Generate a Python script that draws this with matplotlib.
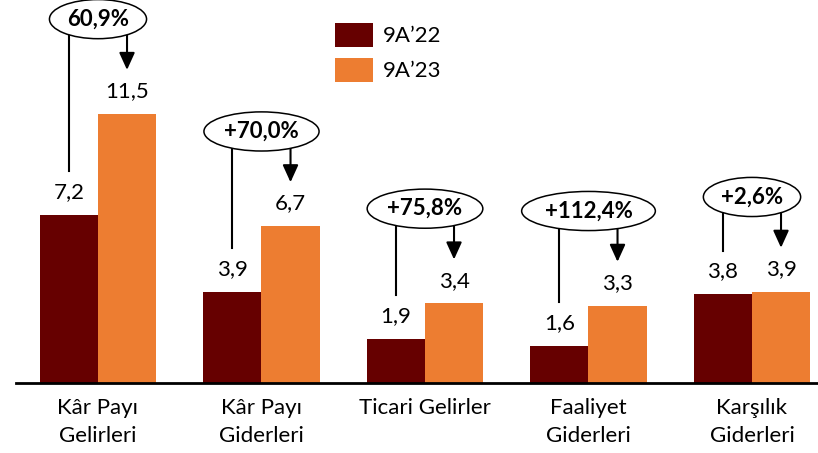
import matplotlib
matplotlib.use("Agg")
import matplotlib.pyplot as plt
import numpy as np

plt.rcParams['font.family'] = ['Lato', 'DejaVu Sans']

# data
categories = ['Kâr Payı\nGelirleri', 'Kâr Payı\nGiderleri', 'Ticari Gelirler',
              'Faaliyet\nGiderleri', 'Karşılık\nGiderleri']
vals_22 = [7.2, 3.9, 1.9, 1.6, 3.8]
vals_23 = [11.5, 6.7, 3.4, 3.3, 3.9]
changes = ['60,9%', '+70,0%', '+75,8%', '+112,4%', '+2,6%']
series_names = ['9A\u201922', '9A\u201923']

c_dark = '#660000'
c_orange = '#ED7D31'

fig = plt.figure(figsize=(8.18, 4.53), dpi=100)
ax = fig.add_axes([16.25 / 818, 70 / 453, 1 - 16.25 / 818, 383 / 453])

x = np.arange(len(categories))
w = 0.355
b1 = ax.bar(x - w / 2, vals_22, w, color=c_dark, label=series_names[0], zorder=2)
b2 = ax.bar(x + w / 2, vals_23, w, color=c_orange, label=series_names[1], zorder=2)

fs = 16
for bars, vals in ((b1, vals_22), (b2, vals_23)):
    for rect, v in zip(bars, vals):
        ax.annotate(f"{v:.1f}".replace('.', ','),
                    (rect.get_x() + rect.get_width() / 2, v),
                    xytext=(0, 12), textcoords='offset points',
                    ha='center', va='baseline', fontsize=fs, color='black')

# growth bubbles with connector line and arrow
for i, (a, b, txt) in enumerate(zip(vals_22, vals_23, changes)):
    top = max(a, b)
    cy = top + 4.05
    bottom = cy - 0.68
    ax.plot([i - w / 2, i - w / 2], [a + 1.85, bottom], color='black', lw=1.5, zorder=3)
    ax.annotate('', xy=(i + w / 2, top + 1.88), xytext=(i + w / 2, bottom),
                arrowprops=dict(arrowstyle='-|>,head_length=0.55,head_width=0.25',
                                color='black', lw=1.5,
                                mutation_scale=19, shrinkA=0, shrinkB=0),
                zorder=3)
    ax.text(i, cy, txt, ha='center', va='center', fontsize=fs, fontweight='bold',
            zorder=5,
            bbox=dict(boxstyle='ellipse,pad=0.15', fc='white', ec='black', lw=1.1))

ax.set_xlim(-0.5, -0.5 + 801.75 / 163.5)
ax.set_ylim(0, 383 / 23.4)
ax.set_xticks(x)
ax.set_xticklabels(categories, fontsize=fs, linespacing=1.55)
ax.tick_params(axis='x', length=0, pad=10.5)
ax.set_yticks([])
for s in ['top', 'right', 'left']:
    ax.spines[s].set_visible(False)
ax.spines['bottom'].set_linewidth(2)
ax.spines['bottom'].set_zorder(4)

fig.legend(handles=[b1, b2], labels=series_names, loc='upper left',
           bbox_to_anchor=(335 / 818, 1 - 23 / 453), frameon=False,
           fontsize=fs, handlelength=1.72, handleheight=1.27,
           handletextpad=0.45, labelspacing=0.5, borderpad=0, borderaxespad=0)

fig.savefig('out.png', dpi=100)
